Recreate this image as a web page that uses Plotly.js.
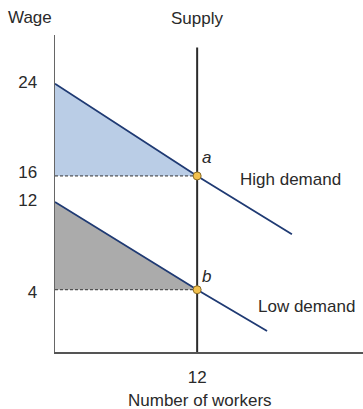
<!DOCTYPE html>
<html>
<head>
<meta charset="utf-8">
<script src="https://cdn.plot.ly/plotly-3.0.1.min.js"></script>
<style>html,body{margin:0;padding:0;background:#fff;}#chart{width:363px;height:409px;}</style>
</head>
<body>
<div id="chart"></div>
<script>
// Diagram coordinates (stylized economics diagram)
const highDemandX = [0, 12, 20];
const highDemandY = [23.7, 15.55, 10.4];
const lowDemandX = [0, 12, 17.9];
const lowDemandY = [13.25, 5.5, 1.85];
const supplyX = [12, 12];
const supplyY = [0, 26.9];
const wageTickLabels = ['24', '16', '12', '4'];
const wageTickVals = [23.85, 15.9, 13.4, 5.3];
const workerTickLabels = ['12'];
const workerTickVals = [12];
const pointLabels = ['a', 'b'];

const navy = '#1f3a73';
const font = 'Liberation Sans, Arial, sans-serif';
const txt = '#2a2a2a';

const traces = [
  { // high demand surplus
    x: [highDemandX[0], highDemandX[1], highDemandX[0]],
    y: [highDemandY[0], highDemandY[1], highDemandY[1]],
    fill: 'toself', fillcolor: '#bacde6', mode: 'none', hoverinfo: 'skip'
  },
  { // low demand surplus
    x: [lowDemandX[0], lowDemandX[1], lowDemandX[0]],
    y: [lowDemandY[0], lowDemandY[1], lowDemandY[1]],
    fill: 'toself', fillcolor: '#ababab', mode: 'none', hoverinfo: 'skip'
  },
  { // dashed wage lines
    x: [highDemandX[0], highDemandX[1], null, lowDemandX[0], lowDemandX[1]],
    y: [highDemandY[1], highDemandY[1], null, lowDemandY[1], lowDemandY[1]],
    mode: 'lines', line: {color: '#333', width: 1, dash: '3px,2px'}
  },
  { // supply
    x: supplyX, y: supplyY, mode: 'lines', line: {color: '#2b2b2b', width: 2}
  },
  { // high demand
    x: highDemandX, y: highDemandY, mode: 'lines', line: {color: navy, width: 1.8}
  },
  { // low demand
    x: lowDemandX, y: lowDemandY, mode: 'lines', line: {color: navy, width: 1.8}
  },
  { // equilibria
    x: [highDemandX[1], lowDemandX[1]], y: [highDemandY[1], lowDemandY[1]],
    mode: 'markers',
    marker: {size: 8, color: '#f2c14e', line: {color: '#8a6a22', width: 1}}
  }
];

const annotations = [
  {text: 'Wage', xref: 'paper', yref: 'paper', x: -0.08, y: 1.055, xanchor: 'center', yanchor: 'middle', showarrow: false, font: {family: font, size: 17, color: txt}},
  {text: 'Supply', xref: 'x', yref: 'paper', x: supplyX[0], y: 1.053, xanchor: 'center', yanchor: 'middle', showarrow: false, font: {family: font, size: 17, color: txt}},
  {text: 'Number of workers', xref: 'x', yref: 'paper', x: 12.2, y: -0.152, xanchor: 'center', yanchor: 'middle', showarrow: false, font: {family: font, size: 17, color: txt}},
  {text: '<i>' + pointLabels[0] + '</i>', xref: 'x', yref: 'y', x: 12.83, y: 17.14, xanchor: 'center', yanchor: 'middle', showarrow: false, font: {family: font, size: 17, color: txt}},
  {text: 'High demand', xref: 'x', yref: 'y', x: 15.45, y: 15.2, xanchor: 'left', yanchor: 'middle', showarrow: false, font: {family: font, size: 17, color: txt}},
  {text: '<i>' + pointLabels[1] + '</i>', xref: 'x', yref: 'y', x: 12.83, y: 6.63, xanchor: 'center', yanchor: 'middle', showarrow: false, font: {family: font, size: 17, color: txt}},
  {text: 'Low demand', xref: 'x', yref: 'y', x: 16.97, y: 3.98, xanchor: 'left', yanchor: 'middle', showarrow: false, font: {family: font, size: 17, color: txt}}
];

const layout = {
  width: 363, height: 409,
  margin: {l: 55, r: 0, t: 35, b: 57, pad: 0},
  paper_bgcolor: '#fff', plot_bgcolor: '#fff',
  showlegend: false,
  xaxis: {
    range: [0, 26], showgrid: false, zeroline: false, showline: true,
    linecolor: '#555', linewidth: 1.5, ticks: '',
    tickvals: workerTickVals, ticktext: workerTickLabels,
    ticklabelstandoff: 9,
    tickfont: {family: font, size: 17, color: txt}, fixedrange: true
  },
  yaxis: {
    range: [0, 28], showgrid: false, zeroline: false, showline: true,
    linecolor: '#666', linewidth: 1.5, ticks: '',
    tickvals: wageTickVals, ticktext: wageTickLabels,
    ticklabelstandoff: 13,
    tickfont: {family: font, size: 17, color: txt}, fixedrange: true
  },
  annotations: annotations
};

Plotly.newPlot('chart', traces, layout, {staticPlot: true, displayModeBar: false});
</script>
</body>
</html>
